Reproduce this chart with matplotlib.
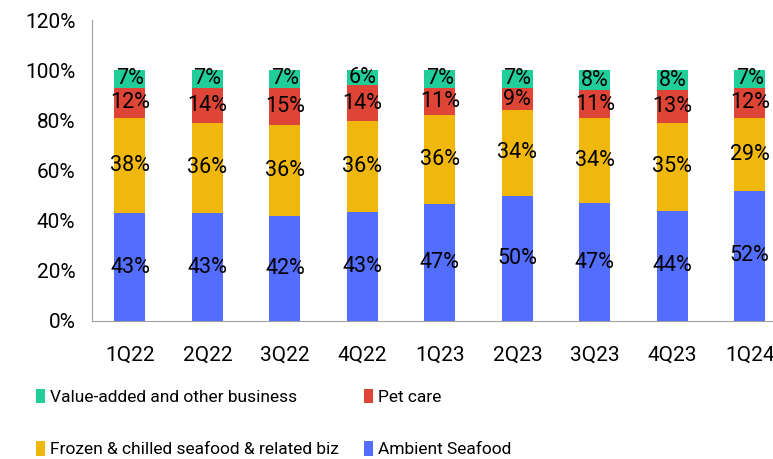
import matplotlib.pyplot as plt
import numpy as np

plt.rcParams['font.family'] = ['Roboto', 'DejaVu Sans']

quarters = ['1Q22', '2Q22', '3Q22', '4Q22', '1Q23', '2Q23', '3Q23', '4Q23', '1Q24']
ambient = [43, 43, 42, 43, 47, 50, 47, 44, 52]
frozen = [38, 36, 36, 36, 36, 34, 34, 35, 29]
pet = [12, 14, 15, 14, 11, 9, 11, 13, 12]
value_added = [7, 7, 7, 6, 7, 7, 8, 8, 7]

series = [
    ('Ambient Seafood', ambient, '#536dfe'),
    ('Frozen & chilled seafood & related biz', frozen, '#f0b70d'),
    ('Pet care', pet, '#de4537'),
    ('Value-added and other business', value_added, '#21ce99'),
]

fig = plt.figure(figsize=(7.73, 4.59), dpi=100)
ax = fig.add_axes([92 / 773, 1 - 321 / 459, 681 / 773, 301 / 459])

x = np.arange(len(quarters))
# shares are rounded, so each bar is scaled to fill 100%
total = np.sum([s[1] for s in series], axis=0).astype(float)
bottom = np.zeros(len(quarters))
handles = {}
for name, vals, color in series:
    vals = np.array(vals, dtype=float)
    h = vals / total * 100
    bars = ax.bar(x, h, 0.4, bottom=bottom, color=color, label=name)
    handles[name] = bars
    for xi, b, hh, v in zip(x, bottom, h, vals):
        ax.text(xi, b + hh / 2, f'{v:.0f}%', ha='center', va='center',
                fontsize=15.5, color='black')
    bottom += h

ax.set_ylim(0, 120)
ax.set_yticks(range(0, 121, 20))
ax.set_yticklabels([f'{v}%' for v in range(0, 121, 20)], fontsize=15)
ax.set_xlim(-0.49, 8.3)
ax.set_xticks(x)
ax.set_xticklabels(quarters, fontsize=15)
ax.tick_params(length=0, pad=12)
ax.tick_params(axis='x', pad=18)
for s in ['top', 'right']:
    ax.spines[s].set_visible(False)
for s in ['left', 'bottom']:
    ax.spines[s].set_color('#9e9e9e')

# column-major fill: row 1 = value-added, pet care; row 2 = frozen, ambient
order = ['Value-added and other business', 'Frozen & chilled seafood & related biz',
         'Pet care', 'Ambient Seafood']
leg = fig.legend([handles[n] for n in order], order, ncol=2,
                 loc='upper left', bbox_to_anchor=(20 / 773, 1 - 373 / 459),
                 frameon=False, fontsize=12.5, handlelength=0.55, handleheight=0.9,
                 handletextpad=0.3, columnspacing=1.4, labelspacing=2.1)

plt.savefig('out.png', dpi=100)
